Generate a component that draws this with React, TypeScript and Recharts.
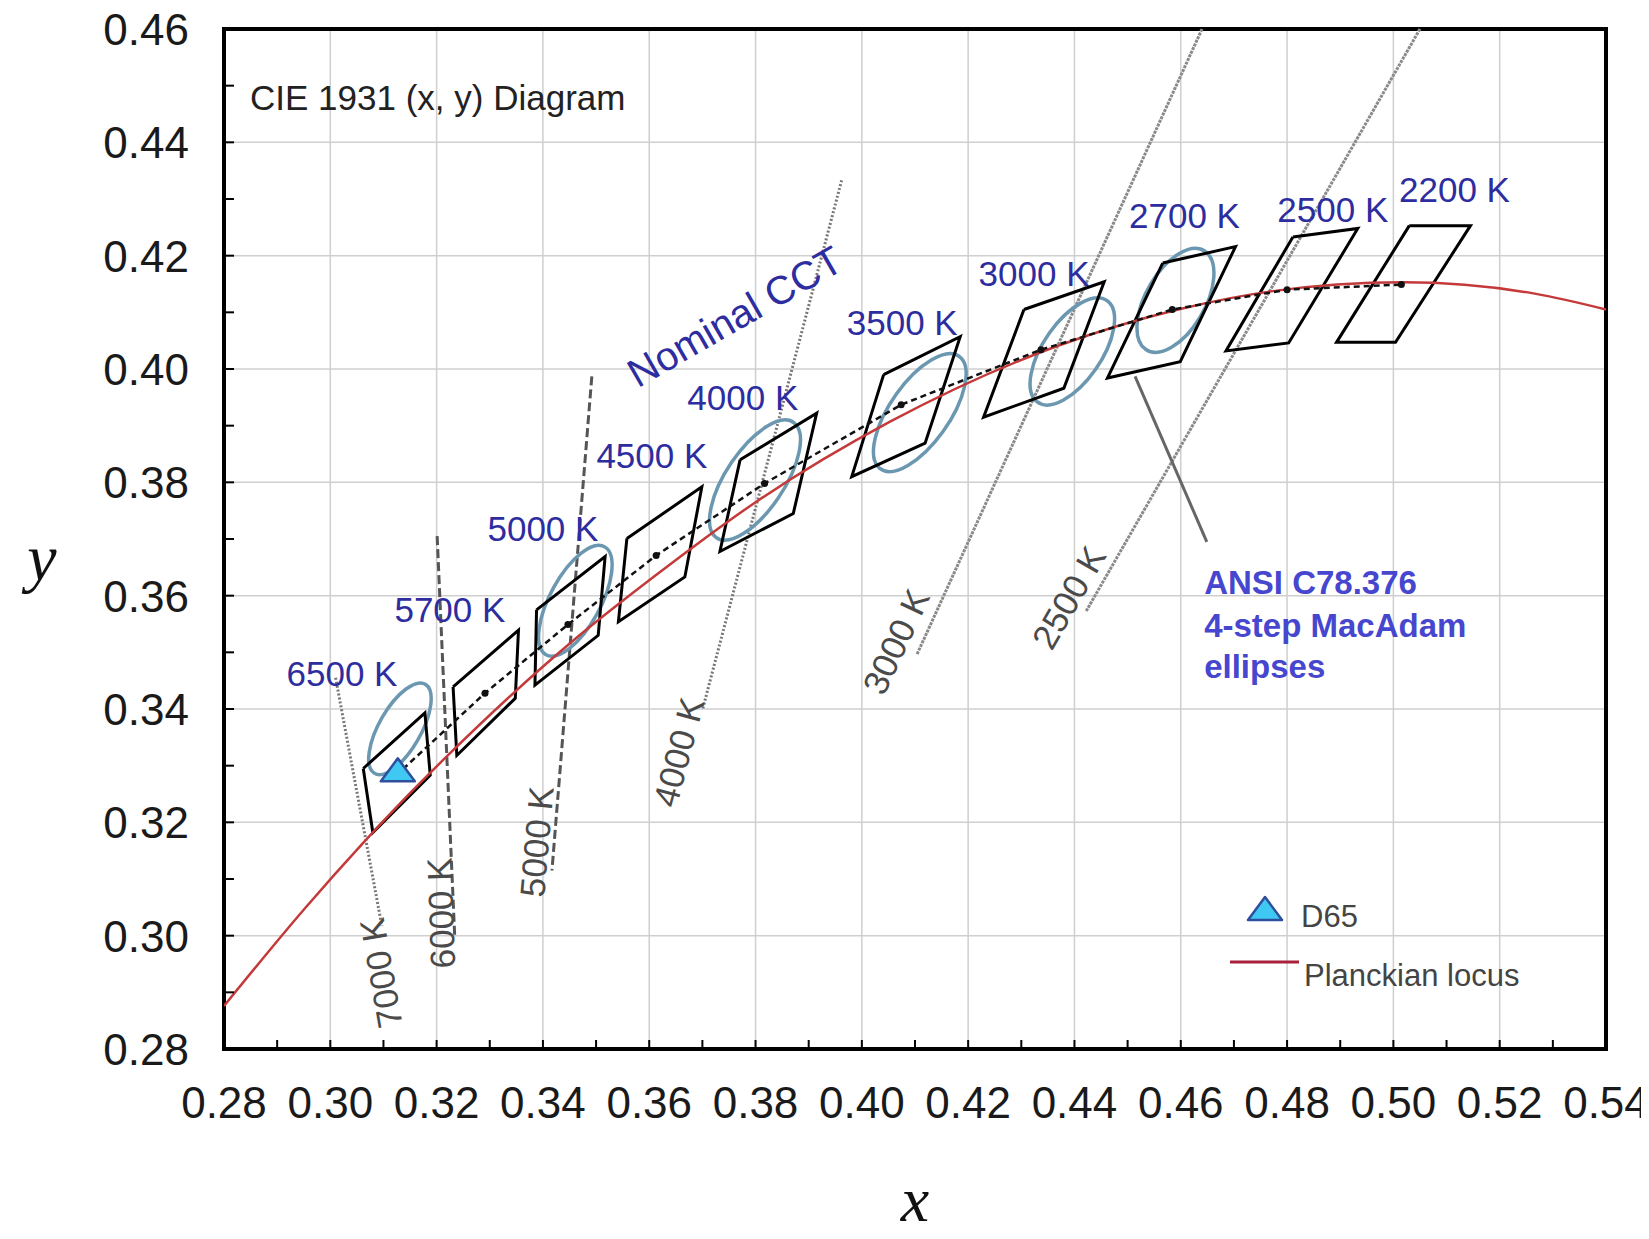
import React from 'react';
import {
  ComposedChart,
  Scatter,
  XAxis,
  YAxis,
  CartesianGrid,
  ReferenceLine,
  ReferenceArea,
  Legend,
} from 'recharts';

// chart geometry (the wrapper is pulled over the body margin so the svg covers the whole page)
const W = 1649;
const H = 1239;
const Y_AXIS_W = 216;
const X_AXIS_H = 190;
const MARGIN = { top: 29, right: 43, bottom: 0, left: 8 };
const PLOT_W = W - MARGIN.left - MARGIN.right - Y_AXIS_W;
const PLOT_H = H - MARGIN.top - MARGIN.bottom - X_AXIS_H;
const X_DOMAIN: [number, number] = [0.28, 0.54];
const Y_DOMAIN: [number, number] = [0.28, 0.46];
const SX = PLOT_W / (X_DOMAIN[1] - X_DOMAIN[0]);
const SY = PLOT_H / (Y_DOMAIN[1] - Y_DOMAIN[0]);

const SANS = '"Liberation Sans", Arial, sans-serif';
const SERIF = '"Liberation Serif", "Times New Roman", serif';

// ---- data ----
const xTicks = [
  0.28, 0.29, 0.3, 0.31, 0.32, 0.33, 0.34, 0.35, 0.36, 0.37, 0.38, 0.39, 0.4, 0.41,
  0.42, 0.43, 0.44, 0.45, 0.46, 0.47, 0.48, 0.49, 0.5, 0.51, 0.52, 0.53, 0.54,
];
const yTicks = [
  0.28, 0.29, 0.3, 0.31, 0.32, 0.33, 0.34, 0.35, 0.36, 0.37, 0.38, 0.39, 0.4, 0.41,
  0.42, 0.43, 0.44, 0.45, 0.46,
];
const gridX = [0.3, 0.32, 0.34, 0.36, 0.38, 0.4, 0.42, 0.44, 0.46, 0.48, 0.5, 0.52];
const gridY = [0.3, 0.32, 0.34, 0.36, 0.38, 0.4, 0.42, 0.44];

const planckian = [
  { x: 0.28, y: 0.2876 },
  { x: 0.2952, y: 0.3048 },
  { x: 0.3064, y: 0.3166 },
  { x: 0.3135, y: 0.3237 },
  { x: 0.3221, y: 0.3318 },
  { x: 0.3451, y: 0.3516 },
  { x: 0.3611, y: 0.3635 },
  { x: 0.3805, y: 0.3768 },
  { x: 0.4053, y: 0.3907 },
  { x: 0.4369, y: 0.4041 },
  { x: 0.4599, y: 0.4106 },
  { x: 0.477, y: 0.4137 },
  { x: 0.5018, y: 0.4153 },
  { x: 0.5266, y: 0.4133 },
  { x: 0.54, y: 0.4105 },
];

const nominalCct = ['6500 K', '5700 K', '5000 K', '4500 K', '4000 K', '3500 K', '3000 K', '2700 K', '2500 K', '2200 K'];

// quadrangle corners: TL, TR, BR, BL
const quads = [
  [[0.3062, 0.3295], [0.3178, 0.3393], [0.3188, 0.3283], [0.308, 0.3182]],
  [[0.3231, 0.3439], [0.3354, 0.3539], [0.3348, 0.3419], [0.3238, 0.3318]],
  [[0.3388, 0.3575], [0.3517, 0.3669], [0.3504, 0.353], [0.3385, 0.3442]],
  [[0.3558, 0.3701], [0.3699, 0.3792], [0.3667, 0.3633], [0.3542, 0.3554]],
  [[0.3771, 0.384], [0.3915, 0.3922], [0.3871, 0.3745], [0.3733, 0.3678]],
  [[0.4041, 0.399], [0.4185, 0.4057], [0.4119, 0.3869], [0.3981, 0.381]],
  [[0.4305, 0.4105], [0.4456, 0.4154], [0.438, 0.3966], [0.4229, 0.3915]],
  [[0.4566, 0.4187], [0.4703, 0.4216], [0.4599, 0.4013], [0.4462, 0.3984]],
  [[0.4811, 0.4233], [0.4933, 0.4248], [0.4803, 0.4046], [0.4685, 0.4032]],
  [[0.503, 0.4253], [0.5145, 0.4253], [0.5004, 0.4047], [0.4893, 0.4047]],
];

const centers = [
  { x: 0.3123, y: 0.3282 },
  { x: 0.3291, y: 0.3428 },
  { x: 0.3447, y: 0.3549 },
  { x: 0.3613, y: 0.3671 },
  { x: 0.3817, y: 0.3798 },
  { x: 0.4074, y: 0.3937 },
  { x: 0.4337, y: 0.4034 },
  { x: 0.4584, y: 0.4105 },
  { x: 0.48, y: 0.414 },
  { x: 0.5015, y: 0.4149 },
];

// 4-step MacAdam ellipses: centre, semi-axes (chromaticity units), angle (deg)
const ellipses = [
  { x: 0.3131, y: 0.3365, a: 0.0092, b: 0.0039, theta: 58.2 },
  { x: 0.3461, y: 0.3591, a: 0.011, b: 0.0047, theta: 59.4 },
  { x: 0.3799, y: 0.3804, a: 0.0125, b: 0.0054, theta: 54.0 },
  { x: 0.4109, y: 0.3923, a: 0.0124, b: 0.0055, theta: 52.6 },
  { x: 0.4396, y: 0.4031, a: 0.0111, b: 0.0054, theta: 53.1 },
  { x: 0.459, y: 0.4121, a: 0.0103, b: 0.0055, theta: 57.3 },
];

const d65 = [{ x: 0.3127, y: 0.329 }];

const isoCct = ['7000 K', '6000 K', '5000 K', '4000 K', '3000 K', '2500 K'];
const isoLines = [
  [{ x: 0.301, y: 0.3455 }, { x: 0.3097, y: 0.3017 }],
  [{ x: 0.3201, y: 0.3705 }, { x: 0.3234, y: 0.3 }],
  [{ x: 0.3492, y: 0.3987 }, { x: 0.3417, y: 0.3115 }],
  [{ x: 0.3962, y: 0.4333 }, { x: 0.37, y: 0.3398 }],
  [{ x: 0.464, y: 0.46 }, { x: 0.4104, y: 0.3497 }],
  [{ x: 0.505, y: 0.46 }, { x: 0.4421, y: 0.3571 }],
];

const callout = [{ x: 0.4514, y: 0.3987 }, { x: 0.4649, y: 0.3695 }];

// ---- annotation placement ----
const cctLabelPos = [
  [0.3022, 0.3462], [0.3225, 0.3575], [0.34, 0.3719], [0.3605, 0.3848], [0.3776, 0.395],
  [0.4076, 0.4082], [0.4324, 0.4169], [0.4607, 0.4271], [0.4886, 0.4281], [0.5115, 0.4316],
];
const isoLabelPos = [
  [0.3095, 0.2934, -100],
  [0.3208, 0.304, -92],
  [0.3388, 0.3166, -85],
  [0.3655, 0.3324, -75],
  [0.4064, 0.3519, -65],
  [0.4389, 0.3597, -60],
];
const isoDash = ['2 2', '9 4', '9 4', '2 2', '3 1', '3 1'];
const isoColor = ['#777', '#555', '#555', '#777', '#8a8a8a', '#8a8a8a'];

const cctLabels = nominalCct.map((t, i) => ({ x: cctLabelPos[i][0], y: cctLabelPos[i][1], text: t }));
const isoLabels = isoCct.map((t, i) => ({
  x: isoLabelPos[i][0],
  y: isoLabelPos[i][1],
  angle: isoLabelPos[i][2],
  text: t,
}));
const quadSeries = quads.map((q) => [...q, q[0]].map(([x, y]) => ({ x, y })));

const titleText = [{ x: 0.2849, y: 0.4479, text: 'CIE 1931 (x, y) Diagram' }];
const nominalText = [{ x: 0.3761, y: 0.4093, angle: -30, text: 'Nominal CCT' }];
const ansiText = [
  { x: 0.4644, y: 0.3624, text: 'ANSI C78.376' },
  { x: 0.4644, y: 0.3548, text: '4-step MacAdam' },
  { x: 0.4644, y: 0.3475, text: 'ellipses' },
];

// ---- shapes ----
const Empty = () => <g />;

const textShape =
  (color: string, size: number, anchor: string, weight: string | number = 'normal') =>
  (props: any) => {
    const { cx, cy, payload } = props;
    return (
      <text
        x={cx}
        y={cy}
        fill={color}
        fontSize={size}
        fontFamily={SANS}
        fontWeight={weight}
        textAnchor={anchor}
        dominantBaseline="central"
        transform={payload.angle ? `rotate(${payload.angle} ${cx} ${cy})` : undefined}
      >
        {payload.text}
      </text>
    );
  };

const EllipseShape = (props: any) => {
  const { cx, cy, payload } = props;
  return (
    <ellipse
      cx={0}
      cy={0}
      rx={payload.a}
      ry={payload.b}
      transform={`translate(${cx} ${cy}) scale(${SX} ${-SY}) rotate(${payload.theta})`}
      fill="none"
      stroke="#6b98b0"
      strokeWidth={3.5}
      vectorEffect="non-scaling-stroke"
    />
  );
};

const Triangle = ({ cx, cy }: { cx: number; cy: number }) => (
  <polygon
    points={`${cx},${cy - 13} ${cx - 17},${cy + 10} ${cx + 17},${cy + 10}`}
    fill="#3fc9f2"
    stroke="#2f4f9e"
    strokeWidth={2.5}
    strokeLinejoin="round"
  />
);

const Dot = (props: any) => <circle cx={props.cx} cy={props.cy} r={3.5} fill="#111" />;

const XTick = (props: any) => {
  const { x, y, payload } = props;
  const v = payload.value;
  const major = Math.round(v * 100) % 2 === 0;
  return (
    <g>
      <line x1={x} y1={y} x2={x} y2={y - 9} stroke="#000" strokeWidth={2} />
      {major && (
        <text x={x} y={y + 69} textAnchor="middle" fontSize={44} fill="#1a1a1a" fontFamily={SANS}>
          {v.toFixed(2)}
        </text>
      )}
    </g>
  );
};

const YTick = (props: any) => {
  const { x, y, payload } = props;
  const v = payload.value;
  const major = Math.round(v * 100) % 2 === 0;
  return (
    <g>
      <line x1={x} y1={y} x2={x + 10} y2={y} stroke="#000" strokeWidth={2} />
      {major && (
        <text x={x - 35} y={y + 16} textAnchor="end" fontSize={44} fill="#1a1a1a" fontFamily={SANS}>
          {v.toFixed(2)}
        </text>
      )}
    </g>
  );
};

const LegendBox = () => (
  <svg width={400} height={115} style={{ overflow: 'visible' }}>
    <Triangle cx={42} cy={24} />
    <text x={78} y={41} fontSize={31} fill="#444" fontFamily={SANS}>
      D65
    </text>
    <line x1={7} y1={76} x2={76} y2={76} stroke="#a8203a" strokeWidth={3} />
    <text x={81} y={100} fontSize={31} fill="#444" fontFamily={SANS}>
      Planckian locus
    </text>
  </svg>
);

export default function App() {
  return (
    <div style={{ width: W, height: H, marginTop: -8, marginLeft: -8, fontFamily: SANS }}>
      <ComposedChart width={W} height={H} margin={MARGIN}>
        <CartesianGrid
          stroke="#cfcfcf"
          strokeWidth={1.5}
          verticalValues={gridX}
          horizontalValues={gridY}
        />
        <XAxis
          type="number"
          dataKey="x"
          domain={X_DOMAIN}
          ticks={xTicks}
          interval={0}
          allowDataOverflow
          height={X_AXIS_H}
          tickSize={0}
          tickMargin={0}
          tickLine={false}
          axisLine={false}
          tick={<XTick />}
          label={{
            content: (p: any) => (
              <text
                x={p.viewBox.x + p.viewBox.width / 2}
                y={p.viewBox.y + 172}
                textAnchor="middle"
                fontSize={64}
                fontStyle="italic"
                fontFamily={SERIF}
                fill="#111"
              >
                x
              </text>
            ),
          }}
        />
        <YAxis
          type="number"
          dataKey="y"
          domain={Y_DOMAIN}
          ticks={yTicks}
          interval={0}
          allowDataOverflow
          width={Y_AXIS_W}
          tickSize={0}
          tickMargin={0}
          tickLine={false}
          axisLine={false}
          tick={<YTick />}
          label={{
            content: () => (
              <text x={42} y={580} textAnchor="middle" fontSize={66} fontStyle="italic" fontFamily={SERIF} fill="#111">
                y
              </text>
            ),
          }}
        />

        {isoLines.map((seg, i) => (
          <ReferenceLine
            key={isoCct[i]}
            segment={seg}
            stroke={isoColor[i]}
            strokeWidth={3}
            strokeDasharray={isoDash[i]}
          />
        ))}
        <ReferenceLine segment={callout} stroke="#666" strokeWidth={3} />

        <Scatter data={ellipses} shape={EllipseShape} isAnimationActive={false} />

        {quadSeries.map((q, i) => (
          <Scatter
            key={nominalCct[i]}
            data={q}
            line={{ stroke: '#000', strokeWidth: 3 }}
            shape={Empty}
            isAnimationActive={false}
          />
        ))}

        <Scatter
          data={planckian}
          line={{ stroke: '#c43a3a', strokeWidth: 2.5 }}
          lineJointType="monotoneX"
          shape={Empty}
          isAnimationActive={false}
        />

        <Scatter
          data={centers}
          line={{ stroke: '#111', strokeWidth: 2.5, strokeDasharray: '6 4' }}
          shape={Dot}
          isAnimationActive={false}
        />

        <Scatter data={d65} shape={(p: any) => <Triangle cx={p.cx} cy={p.cy} />} isAnimationActive={false} />

        <Scatter data={cctLabels} shape={textShape('#2d2da0', 35, 'middle')} isAnimationActive={false} />
        <Scatter data={isoLabels} shape={textShape('#4a4a4a', 35, 'middle')} isAnimationActive={false} />
        <Scatter data={titleText} shape={textShape('#222', 35, 'start')} isAnimationActive={false} />
        <Scatter data={nominalText} shape={textShape('#2d2da0', 40, 'middle')} isAnimationActive={false} />
        <Scatter data={ansiText} shape={textShape('#4646cf', 33, 'start', 'bold')} isAnimationActive={false} />

        <ReferenceArea
          x1={X_DOMAIN[0]}
          x2={X_DOMAIN[1]}
          y1={Y_DOMAIN[0]}
          y2={Y_DOMAIN[1]}
          fill="none"
          fillOpacity={0}
          stroke="#000"
          strokeWidth={4}
        />

        <Legend
          layout="vertical"
          align="center"
          verticalAlign="middle"
          content={() => <LegendBox />}
          wrapperStyle={{ left: 1223, top: 886, width: 400, height: 115 }}
        />
      </ComposedChart>
    </div>
  );
}
